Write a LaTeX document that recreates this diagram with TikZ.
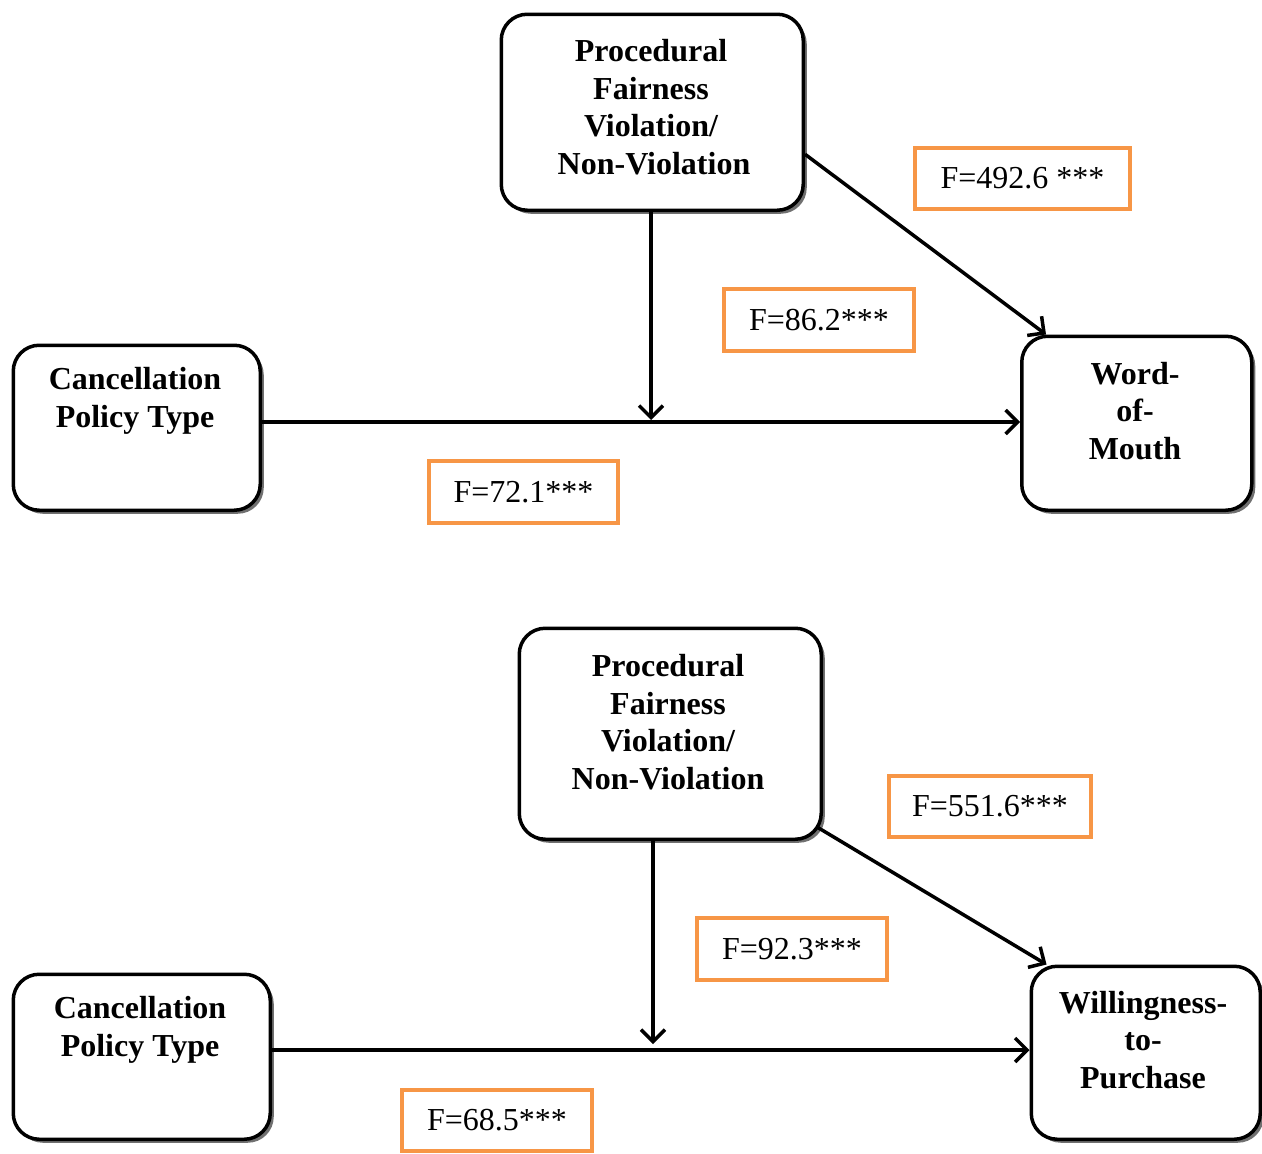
\documentclass[tikz,border=0pt]{standalone}
\usepackage{fontspec}
\setmainfont{Liberation Serif}
\usetikzlibrary{arrows.meta,shadows}
\definecolor{orng}{HTML}{F79646}
\begin{document}
\begin{tikzpicture}[x=1pt,y=-1pt,
  box/.style={draw=black, line width=3.5pt, rounded corners=26pt, fill=white,
    drop shadow={shadow xshift=3.5pt, shadow yshift=-3.5pt, opacity=0.7, fill=black!80},
    inner sep=0pt, anchor=north west},
  btxt/.style={align=center, font=\bfseries\fontsize{32}{37.5}\selectfont, inner sep=0pt},
  lbl/.style={draw=orng, line width=4pt, fill=white, inner sep=0pt,
    font=\fontsize{32}{37}\selectfont},
  arr/.style={line width=3.5pt, -{Straight Barb[length=12pt,width=24pt,line width=3.5pt]}}]
\useasboundingbox (0,0) rectangle (1262,1154);

% ---------- top diagram ----------
\node[box, minimum width=302pt, minimum height=196pt] (pf1) at (499.5,12.5) {};
\node[box, minimum width=230pt, minimum height=174pt] (wom) at (1020,334.5) {};
\node[box, minimum width=247pt, minimum height=165pt] (cpt1) at (11.5,343.5) {};

\node[btxt] (pf1t) at (651,107) {Procedural\\Fairness\\Violation/\\\hspace*{6pt}Non-Violation};
\node[btxt] (womt) at (1135,411) {Word-\\of-\\Mouth};
\node[btxt] (cpt1t) at (135,401) {Cancellation\\Policy Type};

\draw[arr] (cpt1.east |- 0,422) -- (wom.west |- 0,422);
\coordinate (j1) at (651,422);
\draw[arr] (pf1.south -| j1) -- ([yshift=2pt]j1);
\draw[arr] ([yshift=-42pt]pf1.east) -- ([xshift=26pt]wom.north west);

\node[lbl, minimum width=215pt, minimum height=61pt] (l1) at (1022.5,178.5) {F=492.6 ***};
\node[lbl, minimum width=190pt, minimum height=62pt] (l2) at (819,320) {F=86.2***};
\node[lbl, minimum width=189pt, minimum height=62pt] (l3) at (523.5,492) {F=72.1***};

% ---------- bottom diagram ----------
\node[box, minimum width=302pt, minimum height=211pt] (pf2) at (517.5,626.5) {};
\node[box, minimum width=229pt, minimum height=173pt] (wtp) at (1029.5,964.5) {};
\node[box, minimum width=257pt, minimum height=165pt] (cpt2) at (11.5,972.5) {};

\node[btxt] (pf2t) at (668,722) {Procedural\\Fairness\\Violation/\\Non-Violation};
\node[btxt] (wtpt) at (1143,1040) {Willingness-\\to-\\Purchase};
\node[btxt] (cpt2t) at (140,1030) {Cancellation\\Policy Type};

\draw[arr] (cpt2.east |- 0,1050) -- (wtp.west |- 0,1050);
\coordinate (j2) at (653,1050);
\draw[arr] (pf2.south -| j2) -- ([yshift=6pt]j2);
\draw[arr] ([xshift=-6pt,yshift=14pt]pf2.south east) -- ([xshift=17pt]wtp.north west);

\node[lbl, minimum width=202pt, minimum height=61pt] (l4) at (990,806.5) {F=551.6***};
\node[lbl, minimum width=190pt, minimum height=62pt] (l5) at (792,949) {F=92.3***};
\node[lbl, minimum width=190pt, minimum height=61pt] (l6) at (497,1120.5) {F=68.5***};
\end{tikzpicture}
\end{document}
